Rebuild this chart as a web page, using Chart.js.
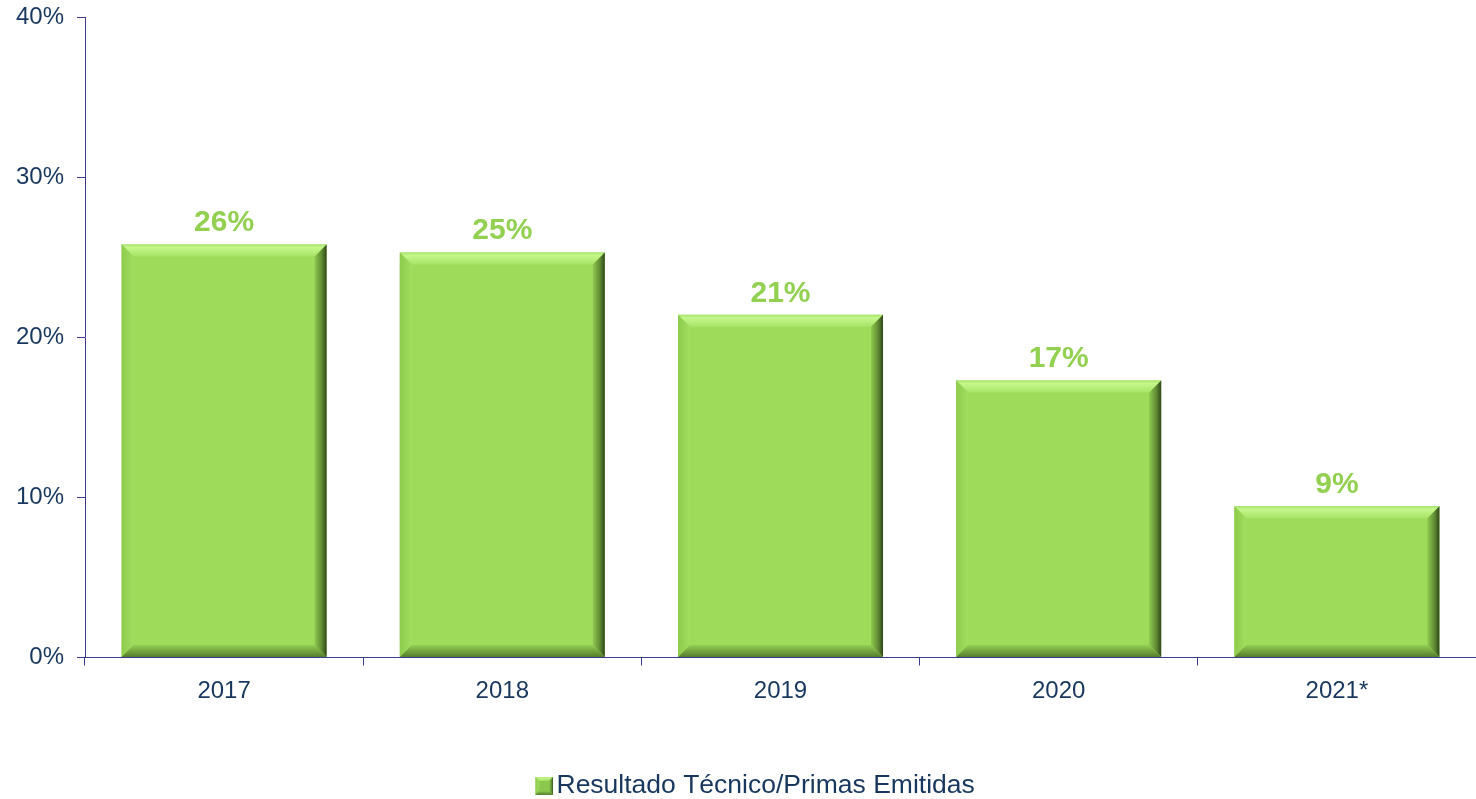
<!DOCTYPE html>
<html>
<head>
<meta charset="utf-8">
<script src="https://cdn.jsdelivr.net/npm/chart.js@4.4.1/dist/chart.umd.min.js"></script>
<style>
  html, body { margin: 0; padding: 0; background: #ffffff; }
  #wrap { width: 1476px; height: 799px; position: relative; }
</style>
</head>
<body>
<div id="wrap"><canvas id="chart"></canvas></div>
<script>
// datos
const years = ['2017', '2018', '2019', '2020', '2021*'];
const ratioValues = [25.8, 25.3, 21.4, 17.3, 9.45];
const seriesName = 'Resultado Técnico/Primas Emitidas';
const yMax = 40;
const yStep = 10;

const navy = '#17375e';
const axisBlue = '#3b3b8f';
const barGreen = '#9edb5b';
const labelGreen = '#92d050';
const fontFamily = "'Liberation Sans', Arial, sans-serif";

// biselado de cada barra (como el efecto 3D de Excel)
function drawBevel(ctx, left, top, right, bottom, b) {
    let g;
    // arriba
    g = ctx.createLinearGradient(0, top, 0, top + b);
    g.addColorStop(0, '#a9e46a');
    g.addColorStop(0.25, '#c4f78c');
    g.addColorStop(1, '#a8e466');
    ctx.fillStyle = g;
    ctx.beginPath();
    ctx.moveTo(left, top); ctx.lineTo(right, top);
    ctx.lineTo(right - b, top + b); ctx.lineTo(left + b, top + b);
    ctx.closePath(); ctx.fill();
    // izquierda
    g = ctx.createLinearGradient(left, 0, left + b, 0);
    g.addColorStop(0, '#8ccb4c');
    g.addColorStop(1, '#a2de60');
    ctx.fillStyle = g;
    ctx.beginPath();
    ctx.moveTo(left, top); ctx.lineTo(left + b, top + b);
    ctx.lineTo(left + b, bottom - b); ctx.lineTo(left, bottom);
    ctx.closePath(); ctx.fill();
    // derecha
    g = ctx.createLinearGradient(right - b, 0, right, 0);
    g.addColorStop(0, '#8ec94f');
    g.addColorStop(0.6, '#5f8a33');
    g.addColorStop(1, '#2f4618');
    ctx.fillStyle = g;
    ctx.beginPath();
    ctx.moveTo(right, top); ctx.lineTo(right, bottom);
    ctx.lineTo(right - b, bottom - b); ctx.lineTo(right - b, top + b);
    ctx.closePath(); ctx.fill();
    // abajo
    g = ctx.createLinearGradient(0, bottom - b, 0, bottom);
    g.addColorStop(0, '#93cf53');
    g.addColorStop(1, '#557d2c');
    ctx.fillStyle = g;
    ctx.beginPath();
    ctx.moveTo(left, bottom); ctx.lineTo(right, bottom);
    ctx.lineTo(right - b, bottom - b); ctx.lineTo(left + b, bottom - b);
    ctx.closePath(); ctx.fill();
}

const bevelPlugin = {
    id: 'bevel',
    afterDatasetsDraw(chart) {
        const ctx = chart.ctx;
        const meta = chart.getDatasetMeta(0);
        ctx.save();
        meta.data.forEach(bar => {
            const p = bar.getProps(['x', 'y', 'base', 'width'], true);
            const left = p.x - p.width / 2;
            const right = p.x + p.width / 2;
            drawBevel(ctx, left, p.y, right, p.base, 12);
        });
        ctx.restore();
    }
};

// etiquetas de valor encima de las barras
const valueLabels = {
    id: 'valueLabels',
    afterDatasetsDraw(chart) {
        const ctx = chart.ctx;
        const meta = chart.getDatasetMeta(0);
        const data = chart.data.datasets[0].data;
        ctx.save();
        ctx.font = 'bold 30px ' + fontFamily;
        ctx.fillStyle = labelGreen;
        ctx.textAlign = 'center';
        ctx.textBaseline = 'alphabetic';
        meta.data.forEach((bar, i) => {
            ctx.fillText(Math.round(data[i]) + '%', bar.x, bar.y - 13);
        });
        ctx.restore();
    }
};

// la leyenda va un poco a la derecha del centro
const legendShift = {
    id: 'legendShift',
    afterUpdate(chart) {
        chart.legend.left += 12;
        chart.legend.right += 12;
    }
};

// cuadrito de la leyenda
function legendSwatch() {
    const c = document.createElement('canvas');
    c.width = 38; c.height = 18;
    const ctx = c.getContext('2d');
    ctx.fillStyle = '#8cc84c';
    ctx.fillRect(20, 0, 18, 18);
    drawBevel(ctx, 20, 0, 38, 18, 4);
    return c;
}
const swatch = legendSwatch();

const ctx = document.getElementById('chart').getContext('2d');
const chart = new Chart(ctx, {
    type: 'bar',
    data: {
        labels: years,
        datasets: [{
            label: seriesName,
            data: ratioValues,
            backgroundColor: barGreen,
            borderWidth: 0,
            categoryPercentage: 1,
            barPercentage: 0.737
        }]
    },
    plugins: [bevelPlugin, valueLabels, legendShift],
    options: {
        responsive: true,
        maintainAspectRatio: false,
        animation: false,
        layout: { padding: { top: 17, right: 0, left: 0, bottom: -10 } },
        scales: {
            x: {
                grid: {
                    drawOnChartArea: false,
                    offset: true,
                    tickLength: 8,
                    color: axisBlue
                },
                border: { color: axisBlue, width: 1 },
                ticks: {
                    color: navy,
                    font: { family: fontFamily, size: 24 },
                    padding: 11
                },
                afterFit(scale) { scale.height = 111; }
            },
            y: {
                min: 0,
                max: yMax,
                grid: {
                    drawOnChartArea: false,
                    tickLength: 8,
                    color: axisBlue
                },
                border: { color: axisBlue, width: 1 },
                ticks: {
                    stepSize: yStep,
                    color: navy,
                    font: { family: fontFamily, size: 24 },
                    padding: 13,
                    callback: v => v + '%'
                },
                afterFit(scale) {
                    scale.width = 85;
                    scale.paddingTop = 0;
                    scale.paddingBottom = 0;
                }
            }
        },
        plugins: {
            legend: {
                position: 'bottom',
                labels: {
                    usePointStyle: true,
                    pointStyle: swatch,
                    pointStyleWidth: 18,
                    color: navy,
                    font: { family: fontFamily, size: 26.5 },
                    padding: 4
                }
            },
            tooltip: { enabled: false }
        }
    }
});
</script>
</body>
</html>
